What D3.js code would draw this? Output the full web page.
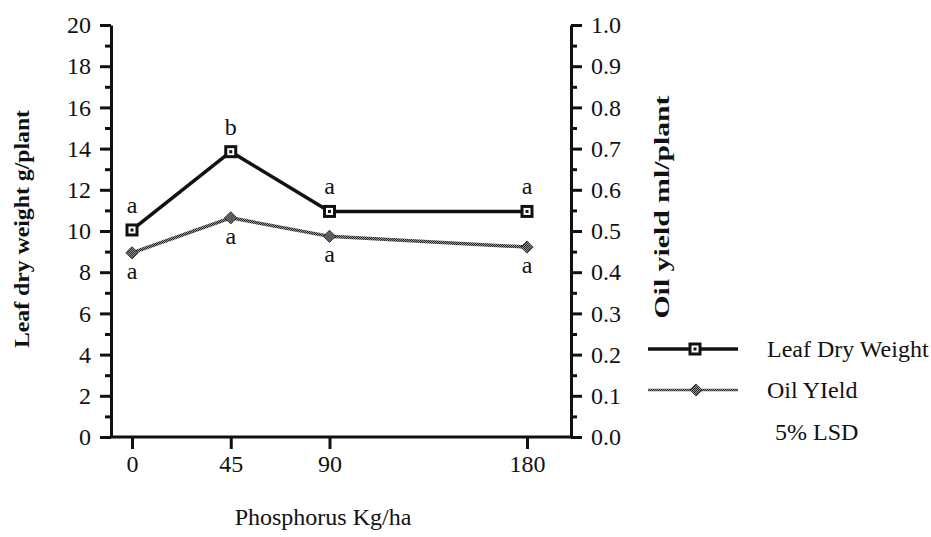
<!DOCTYPE html>
<html>
<head>
<meta charset="utf-8">
<script src="https://cdn.jsdelivr.net/npm/d3@7"></script>
<style>
  body { margin: 0; background: #fff; }
  svg text { font-family: 'Liberation Serif', 'Times New Roman', serif; fill: #111; }
</style>
</head>
<body>
<svg id="chart" width="931" height="537"></svg>
<script>
// values
const phosphorus = [0, 45, 90, 180];
const leafDryWeight = [10.05, 13.85, 10.95, 10.95];
const oilYield = [0.447, 0.532, 0.487, 0.461];
const leafLetters = ["a", "b", "a", "a"];
const oilLetters = ["a", "a", "a", "a"];
const leftTicks = d3.range(0, 21, 2);
const leftMinor = d3.range(1, 20, 2);
const rightTicks = d3.range(0, 11).map(d => d / 10);
const rightMinor = d3.range(0, 10).map(d => d / 10 + 0.05);
const legendNames = ["Leaf Dry Weight", "Oil YIeld"];

const serif = "'Liberation Serif', 'Times New Roman', serif";

let svg = d3.select("#chart").attr("font-family", serif);

let plotLeft = 111, plotRight = 571, plotTop = 25, plotBottom = 437;

let x = d3.scaleLinear().domain([0, 180]).range([132, 527]),
    yLeft = d3.scaleLinear().domain([0, 20]).range([plotBottom, plotTop]),
    yRight = d3.scaleLinear().domain([0, 1]).range([plotBottom, plotTop]);

// pattern for the grey textured marks
let defs = svg.append("defs");
let pat = defs.append("pattern")
    .attr("id", "hatch")
    .attr("width", 2).attr("height", 2)
    .attr("patternUnits", "userSpaceOnUse");
pat.append("rect").attr("width", 2).attr("height", 2).attr("fill", "#999");
pat.append("rect").attr("width", 1).attr("height", 1).attr("fill", "#222");
pat.append("rect").attr("x", 1).attr("y", 1).attr("width", 1).attr("height", 1).attr("fill", "#222");

function styleAxis(g) {
    g.attr("font-family", serif);
    g.selectAll("path.domain").attr("stroke", "#111").attr("stroke-width", 3);
    g.selectAll(".tick line").attr("stroke", "#111").attr("stroke-width", 3);
    g.selectAll(".tick text")
        .style("font-family", serif)
        .style("font-size", "24px")
        .attr("fill", "#111");
}

// left axis
svg.append("g")
    .attr("transform", `translate(${plotLeft},0)`)
    .call(d3.axisLeft(yLeft).tickValues(leftMinor).tickSize(6).tickFormat(""))
    .call(g => g.select(".domain").remove())
    .call(styleAxis);
svg.append("g")
    .attr("transform", `translate(${plotLeft},0)`)
    .call(d3.axisLeft(yLeft).tickValues(leftTicks).tickSize(11).tickSizeOuter(0).tickPadding(9))
    .call(styleAxis);

// right axis
svg.append("g")
    .attr("transform", `translate(${plotRight},0)`)
    .call(d3.axisRight(yRight).tickValues(rightMinor).tickSize(6).tickFormat(""))
    .call(g => g.select(".domain").remove())
    .call(styleAxis);
svg.append("g")
    .attr("transform", `translate(${plotRight},0)`)
    .call(d3.axisRight(yRight).tickValues(rightTicks).tickSize(11).tickSizeOuter(0).tickPadding(9).tickFormat(d3.format(".1f")))
    .call(styleAxis);

// bottom axis
svg.append("line")
    .attr("x1", plotLeft).attr("x2", plotRight)
    .attr("y1", plotBottom).attr("y2", plotBottom)
    .attr("stroke", "#111").attr("stroke-width", 3);
svg.append("g")
    .attr("transform", `translate(0,${plotBottom})`)
    .call(d3.axisBottom(x).tickValues(phosphorus).tickSize(12).tickPadding(6))
    .call(g => g.select(".domain").remove())
    .call(styleAxis);

// axis titles
svg.append("text")
    .attr("transform", "translate(29,229) rotate(-90)")
    .attr("text-anchor", "middle")
    .attr("textLength", 238)
    .attr("lengthAdjust", "spacingAndGlyphs")
    .style("font-size", "20px")
    .style("font-weight", "bold")
    .text("Leaf dry weight g/plant");

svg.append("text")
    .attr("transform", "translate(669,207) rotate(-90)")
    .attr("text-anchor", "middle")
    .attr("textLength", 223)
    .attr("lengthAdjust", "spacingAndGlyphs")
    .style("font-size", "20px")
    .style("font-weight", "bold")
    .text("Oil yield ml/plant");

svg.append("text")
    .attr("x", 323).attr("y", 525)
    .attr("text-anchor", "middle")
    .style("font-size", "24px")
    .text("Phosphorus Kg/ha");

// lines
let leafData = phosphorus.map((p, i) => ({x: p, y: leafDryWeight[i], l: leafLetters[i]}));
let oilData = phosphorus.map((p, i) => ({x: p, y: oilYield[i], l: oilLetters[i]}));

let oilLine = d3.line().x(d => x(d.x)).y(d => yRight(d.y));
let leafLine = d3.line().x(d => x(d.x)).y(d => yLeft(d.y));

svg.append("path")
    .datum(oilData)
    .attr("d", oilLine)
    .attr("fill", "none")
    .attr("stroke", "url(#hatch)")
    .attr("stroke-width", 3.5);

svg.append("path")
    .datum(leafData)
    .attr("d", leafLine)
    .attr("fill", "none")
    .attr("stroke", "#111")
    .attr("stroke-width", 3.5);

function diamond(sel) {
    sel.append("path")
        .attr("d", d3.symbol().type(d3.symbolDiamond2).size(95))
        .attr("fill", "url(#hatch)")
        .attr("stroke", "#333")
        .attr("stroke-width", 1);
}
function square(sel) {
    sel.append("rect")
        .attr("x", -5).attr("y", -5).attr("width", 10).attr("height", 10)
        .attr("fill", "#fff").attr("stroke", "#111").attr("stroke-width", 3);
    sel.append("rect")
        .attr("x", -1.5).attr("y", -1.5).attr("width", 3).attr("height", 3)
        .attr("fill", "#111");
}

svg.append("g").selectAll("g")
    .data(oilData)
    .enter()
    .append("g")
    .attr("transform", d => `translate(${x(d.x)},${yRight(d.y)})`)
    .call(diamond);

svg.append("g").selectAll("g")
    .data(leafData)
    .enter()
    .append("g")
    .attr("transform", d => `translate(${x(d.x)},${yLeft(d.y)})`)
    .call(square);

// significance letters
svg.append("g").selectAll("text")
    .data(leafData)
    .enter()
    .append("text")
    .attr("x", d => x(d.x))
    .attr("y", d => yLeft(d.y) - 17)
    .attr("text-anchor", "middle")
    .style("font-size", "24px")
    .text(d => d.l);

svg.append("g").selectAll("text")
    .data(oilData)
    .enter()
    .append("text")
    .attr("x", d => x(d.x))
    .attr("y", d => yRight(d.y) + 26)
    .attr("text-anchor", "middle")
    .style("font-size", "24px")
    .text(d => d.l);

// legend
let legend = svg.append("g").attr("transform", "translate(648,349)");
let items = legend.selectAll("g")
    .data(legendNames)
    .enter()
    .append("g")
    .attr("transform", (d, i) => `translate(0,${i * 41})`);

items.append("line")
    .attr("x1", 0).attr("x2", 90)
    .attr("stroke", (d, i) => i === 0 ? "#111" : "url(#hatch)")
    .attr("stroke-width", (d, i) => i === 0 ? 3.5 : 2.5);
items.filter((d, i) => i === 0).append("g").attr("transform", "translate(47,0)").call(square);
items.filter((d, i) => i === 1).append("g").attr("transform", "translate(48,0)").call(diamond);
items.append("text")
    .attr("x", 119).attr("y", 8)
    .style("font-size", "24px")
    .text(d => d);

legend.append("text")
    .attr("x", 127).attr("y", 91)
    .style("font-size", "24px")
    .text("5% LSD");
</script>
</body>
</html>
